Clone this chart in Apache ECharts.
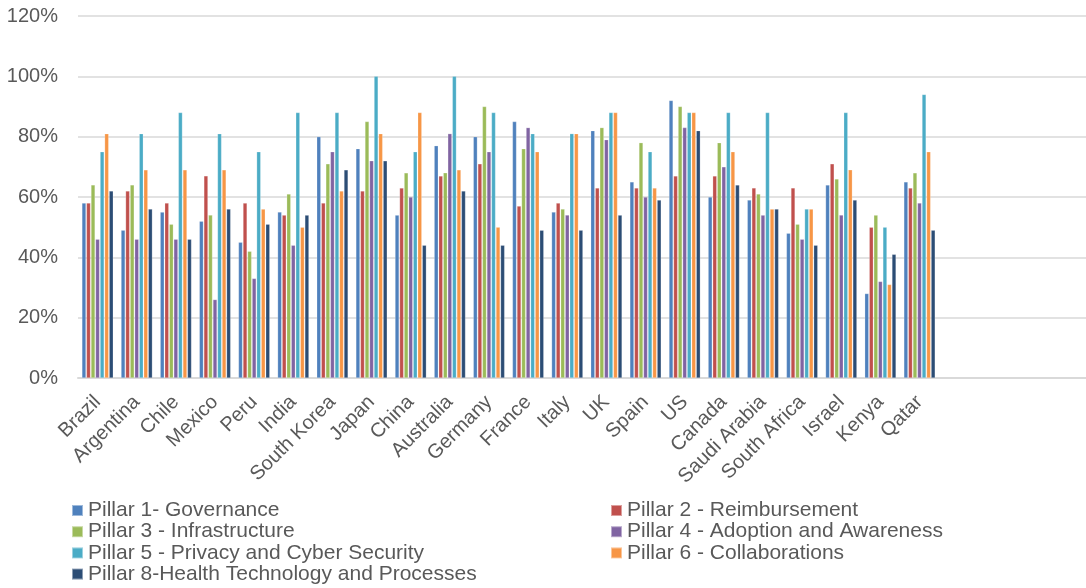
<!DOCTYPE html>
<html>
<head>
<meta charset="utf-8">
<script src="https://cdn.jsdelivr.net/npm/echarts@6/dist/echarts.min.js"></script>
<style>
  html, body { margin: 0; padding: 0; background: #ffffff; }
  #chart { width: 1086px; height: 588px; }
</style>
</head>
<body>
<div id="chart"></div>
<script>
// Countries shown on the category axis; trailing blanks leave empty space on the right
const countries = ['Brazil', 'Argentina', 'Chile', 'Mexico', 'Peru', 'India', 'South Korea', 'Japan',
  'China', 'Australia', 'Germany', 'France', 'Italy', 'UK', 'Spain', 'US', 'Canada', 'Saudi Arabia',
  'South Africa', 'Israel', 'Kenya', 'Qatar'];
const blankSlots = ['', '', ''];

const seriesNames = [
  'Pillar 1- Governance',
  'Pillar 2 - Reimbursement',
  'Pillar 3 - Infrastructure',
  'Pillar 4 - Adoption and Awareness',
  'Pillar 5 - Privacy and Cyber Security',
  'Pillar 6 - Collaborations',
  'Pillar 8-Health Technology and Processes'
];

// Scores in percent, one value per country
const pillar1 = [58, 49, 55, 52, 45, 55, 80, 76, 54, 77, 80, 85, 55, 82, 65, 92, 60, 59, 48, 64, 28, 65];
const pillar2 = [58, 62, 58, 67, 58, 54, 58, 62, 63, 67, 71, 57, 58, 63, 63, 67, 67, 63, 63, 71, 50, 63];
const pillar3 = [64, 64, 51, 54, 42, 61, 71, 85, 68, 68, 90, 76, 56, 83, 78, 90, 78, 61, 51, 66, 54, 68];
const pillar4 = [46, 46, 46, 26, 33, 44, 75, 72, 60, 81, 75, 83, 54, 79, 60, 83, 70, 54, 46, 54, 32, 58];
const pillar5 = [75, 81, 88, 81, 75, 88, 88, 100, 75, 100, 88, 81, 81, 88, 75, 88, 88, 88, 56, 88, 50, 94];
const pillar6 = [81, 69, 69, 69, 56, 50, 62, 81, 88, 69, 50, 75, 81, 88, 63, 88, 75, 56, 56, 69, 31, 75];
const pillar8 = [62, 56, 46, 56, 51, 54, 69, 72, 44, 62, 44, 49, 49, 54, 59, 82, 64, 56, 44, 59, 41, 49];

const yTicks = [0, 20, 40, 60, 80, 100, 120];

const palette = ['#4F81BD', '#C0504D', '#9BBB59', '#8064A2', '#4BACC6', '#F79646', '#2C4D75'];
const values = [pillar1, pillar2, pillar3, pillar4, pillar5, pillar6, pillar8];

const chart = echarts.init(document.getElementById('chart'), null, { renderer: 'canvas' });

const textColor = '#595959';
const font = 'Liberation Sans, Arial, sans-serif';
const gridColor = '#D9D9D9';

const legendText = { fontSize: 21, color: textColor, fontFamily: font, lineHeight: 21 };

chart.setOption({
  animation: false,
  backgroundColor: '#ffffff',
  color: palette,
  grid: [
    // bars and category labels
    { left: 78, right: 29.5, top: 16, bottom: 210, containLabel: false },
    // full-width frame: horizontal gridlines and baseline run to the right edge
    { left: 78, right: 0, top: 16, bottom: 210, containLabel: false }
  ],
  legend: [
    {
      orient: 'vertical', left: 71, top: 500, padding: 0, height: 95,
      data: [seriesNames[0], seriesNames[2], seriesNames[4], seriesNames[6]],
      icon: 'rect', itemWidth: 11, itemHeight: 11, itemGap: 0.2,
      textStyle: legendText
    },
    {
      orient: 'vertical', left: 610, top: 500, padding: 0, height: 95,
      data: [seriesNames[1], seriesNames[3], seriesNames[5]],
      icon: 'rect', itemWidth: 11, itemHeight: 11, itemGap: 0.2,
      textStyle: legendText
    }
  ],
  xAxis: [
    {
      type: 'category', gridIndex: 0,
      data: countries.concat(blankSlots),
      axisLine: { show: false },
      axisTick: { show: false },
      axisLabel: {
        interval: 0, rotate: 45, margin: 21,
        fontSize: 20, color: textColor, fontFamily: font
      },
      splitLine: { show: false }
    },
    {
      type: 'value', gridIndex: 1, min: 0, max: 1,
      axisLine: { show: true, onZero: false, lineStyle: { color: gridColor, width: 2 } },
      axisTick: { show: false },
      axisLabel: { show: false },
      splitLine: { show: false }
    }
  ],
  yAxis: [
    {
      type: 'value', gridIndex: 0,
      min: yTicks[0], max: yTicks[yTicks.length - 1], interval: 20,
      axisLine: { show: false },
      axisTick: { show: false },
      axisLabel: {
        margin: 20, fontSize: 20, color: textColor, fontFamily: font,
        formatter: v => v + '%'
      },
      splitLine: { show: false }
    },
    {
      type: 'value', gridIndex: 1,
      min: yTicks[0], max: yTicks[yTicks.length - 1], interval: 20,
      axisLine: { show: false },
      axisTick: { show: false },
      axisLabel: { show: false },
      splitLine: { lineStyle: { color: gridColor, width: 1.5 } }
    }
  ],
  series: seriesNames.map((name, i) => ({
    name: name,
    type: 'bar',
    xAxisIndex: 0,
    yAxisIndex: 0,
    data: values[i],
    barGap: '12%',
    barCategoryGap: '20%',
    z: 3,
    itemStyle: { color: palette[i], borderColor: 'rgba(255,255,255,0.45)', borderWidth: 0.5 }
  }))
});
</script>
</body>
</html>
